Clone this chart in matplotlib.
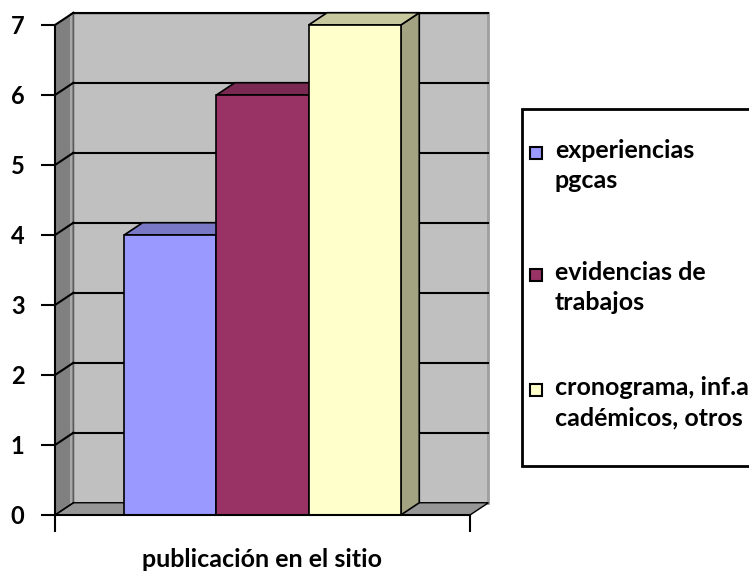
import matplotlib
matplotlib.use("Agg")
import matplotlib.pyplot as plt
from matplotlib.patches import Polygon, Rectangle

# data
categoria = "publicación en el sitio"
series = ["experiencias\npgcas", "evidencias de\ntrabajos", "cronograma, inf.a\ncadémicos, otros"]
valores = [4, 6, 7]
y_ticks = [0, 1, 2, 3, 4, 5, 6, 7]

# colours: front, top, side
frente = ["#9999FF", "#993366", "#FFFFCC"]
techo = ["#7878C6", "#7A2952", "#C8C89E"]
lado = ["#7070B8", "#6E2249", "#A3A382"]

plt.rcParams["font.family"] = ["Lato", "DejaVu Sans"]
plt.rcParams["font.weight"] = "bold"

W, H = 749, 573
fig = plt.figure(figsize=(W / 100, H / 100), dpi=100)
ax = fig.add_axes([55 / W, 58 / H, 415 / W, 490 / H])

xmax = 4.5
ymax = y_ticks[-1]
DX, DY = 0.2, 0.175  # depth of the fake 3d box in data units

# back wall
ax.add_patch(Rectangle((DX, DY), xmax, ymax, facecolor="#C0C0C0",
                       edgecolor="#404040", lw=1, clip_on=False, zorder=0))
ax.plot([xmax + DX] * 2, [DY, ymax + DY], color="#A0A0A0", lw=2,
        clip_on=False, zorder=0.5)
# left wall
ax.add_patch(Polygon([(0, 0), (DX, DY), (DX, ymax + DY), (0, ymax)],
                     facecolor="#808080", edgecolor="none", clip_on=False, zorder=0.6))
ax.plot([DX - 0.03] * 2, [DY, ymax + DY - 0.02], color="#A8A8A8", lw=1.5,
        clip_on=False, zorder=0.7)
# floor
ax.add_patch(Polygon([(0, 0), (xmax, 0), (xmax + DX, DY), (DX, DY)],
                     facecolor="#969696", edgecolor="black", lw=1, clip_on=False, zorder=0.8))

# gridlines on back and side walls
for y in y_ticks[1:]:
    ax.plot([DX, xmax + DX], [y + DY] * 2, color="black", lw=1.5,
            clip_on=False, zorder=1)
    ax.plot([0, DX], [y, y + DY], color="black", lw=1.5, clip_on=False, zorder=1)
ax.plot([0, DX], [0, DY], color="black", lw=1, clip_on=False, zorder=1)

# bars
for i, v in enumerate(valores):
    x0 = 0.75 + i
    z = 2 + i
    ax.add_patch(Polygon([(x0 + 1, 0), (x0 + 1 + DX, DY), (x0 + 1 + DX, v + DY), (x0 + 1, v)],
                         facecolor=lado[i], edgecolor="black", lw=1.2, clip_on=False, zorder=z))
    ax.add_patch(Polygon([(x0, v), (x0 + DX, v + DY), (x0 + 1 + DX, v + DY), (x0 + 1, v)],
                         facecolor=techo[i], edgecolor="black", lw=1.2, clip_on=False, zorder=z))
    ax.add_patch(Rectangle((x0, 0), 1, v, facecolor=frente[i], edgecolor="black",
                           lw=1.2, clip_on=False, zorder=z + 0.5))

ax.set_xlim(0, xmax)
ax.set_ylim(0, ymax)
for s in ["top", "right"]:
    ax.spines[s].set_visible(False)
for s in ["left", "bottom"]:
    ax.spines[s].set_linewidth(1.5)
    ax.spines[s].set_zorder(10)
ax.patch.set_visible(False)

ax.set_yticks(y_ticks)
ax.tick_params(axis="y", length=10, width=1.5, pad=12, labelsize=17)
ax.set_xticks([xmax / 2])
ax.set_xticklabels([categoria])
ax.tick_params(axis="x", length=0, pad=24, labelsize=18)
ax.set_xticks([0, xmax], minor=True)
ax.tick_params(axis="x", which="minor", length=12, width=1.5)

# legend drawn by hand in pixel coordinates
lg = fig.add_axes([0, 0, 1, 1])
lg.set_xlim(0, W)
lg.set_ylim(H, 0)
lg.axis("off")
lg.add_patch(Rectangle((522, 109), 260, 357, facecolor="white", edgecolor="black", lw=2))
base = [158, 280, 395]
for i, lab in enumerate(series):
    lg.add_patch(Rectangle((530, base[i] - 11), 12, 12, facecolor=frente[i],
                           edgecolor="black", lw=1.5))
    for k, line in enumerate(lab.split("\n")):
        lg.text(555, base[i] + k * 30, line, fontsize=18, va="baseline", ha="left")

fig.savefig("out.png", dpi=100)
